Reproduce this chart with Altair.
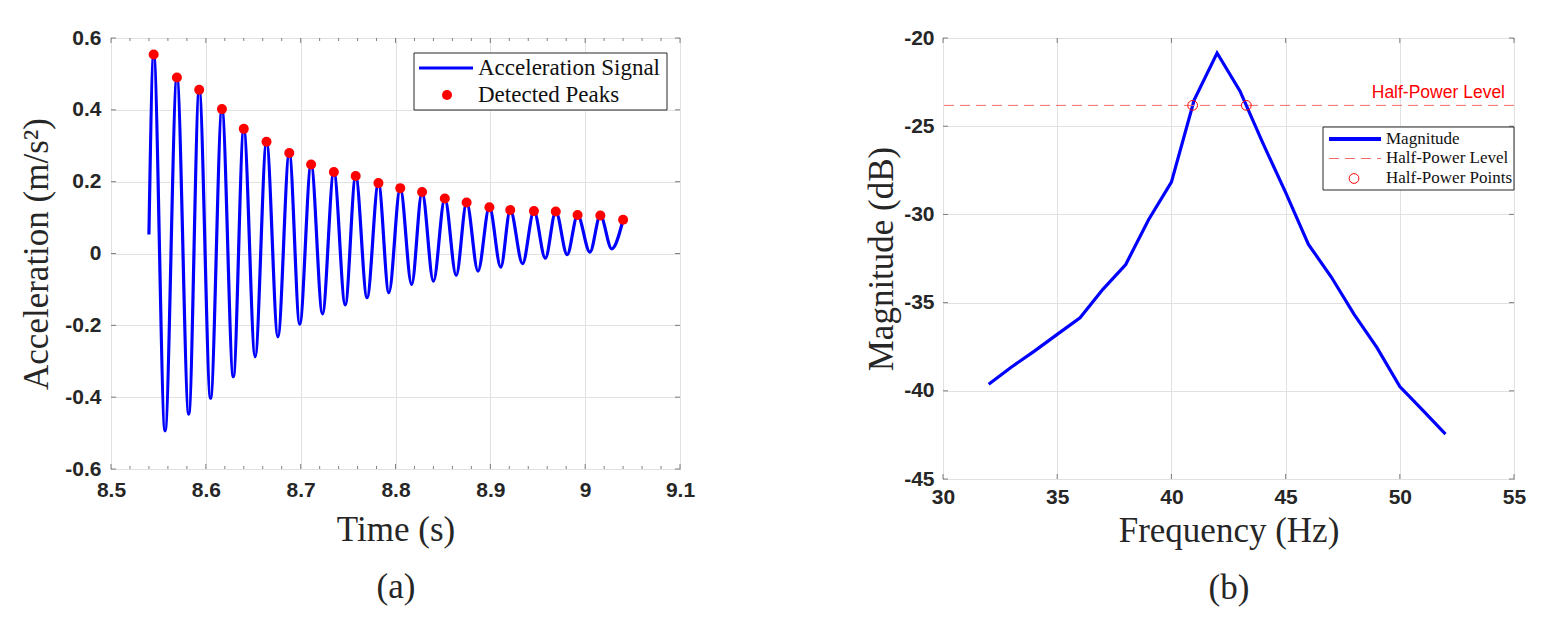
import altair as alt
import pandas as pd

# ---------------- panel (a): decaying acceleration signal ----------------
start_t = [8.540]
start_v = [0.053]
peak_t = [8.545, 8.5695, 8.593, 8.617, 8.640, 8.664, 8.688, 8.711, 8.735, 8.758, 8.782,
          8.805, 8.828, 8.852, 8.875, 8.899, 8.921, 8.946, 8.969, 8.992, 9.016, 9.040]
peak_v = [0.554, 0.490, 0.456, 0.402, 0.347, 0.311, 0.280, 0.248, 0.227, 0.216, 0.196,
          0.182, 0.171, 0.153, 0.142, 0.129, 0.121, 0.118, 0.117, 0.107, 0.106, 0.094]
trough_t = [8.557, 8.582, 8.605, 8.629, 8.652, 8.676, 8.699, 8.723, 8.747, 8.770, 8.793,
            8.817, 8.840, 8.864, 8.887, 8.911, 8.934, 8.958, 8.981, 9.005, 9.028]
trough_v = [-0.494, -0.447, -0.403, -0.343, -0.287, -0.232, -0.197, -0.168, -0.143, -0.123, -0.109,
            -0.086, -0.077, -0.061, -0.049, -0.038, -0.028, -0.013, -0.003, 0.004, 0.013]
a_x_ticks = [8.5, 8.6, 8.7, 8.8, 8.9, 9.0, 9.1]
a_x_minor = [8.52, 8.54, 8.56, 8.58, 8.62, 8.64, 8.66, 8.68, 8.72, 8.74, 8.76, 8.78,
             8.82, 8.84, 8.86, 8.88, 8.92, 8.94, 8.96, 8.98, 9.02, 9.04, 9.06, 9.08]
a_y_ticks = [-0.6, -0.4, -0.2, 0, 0.2, 0.4, 0.6]

# ---------------- panel (b): frequency response ----------------
freq = [32, 33, 34, 35, 36, 37, 38, 39, 40, 41, 42, 43, 44, 45, 46, 47, 48, 49, 50, 51, 52]
mag = [-39.63, -38.65, -37.75, -36.8, -35.86, -34.25, -32.84, -30.3, -28.17, -23.5, -20.85,
       -23.0, -25.95, -28.75, -31.7, -33.55, -35.67, -37.55, -39.76, -41.1, -42.46]
half_power_level = [-23.82]
hp_freq = [40.93, 43.28]
b_x_ticks = [30, 35, 40, 45, 50, 55]
b_y_ticks = [-45, -40, -35, -30, -25, -20]

WA, HA = 569, 431
WB, HB = 571, 441
SERIF = "Liberation Serif"
SANS = "Liberation Sans"
BLUE = "#0000FF"
RED = "#FF0000"
HPRED = "#f36b6b"
GRID = "#e1e1e1"
TXT = "#262626"
MINUS = "replace(datum.label, '\u2212', '-')"

sig = pd.DataFrame({"t": start_t + peak_t + trough_t,
                    "v": start_v + peak_v + trough_v}).sort_values("t").reset_index(drop=True)
peaks = pd.DataFrame({"t": peak_t, "v": peak_v})
one = pd.DataFrame({"k": [0]})


def mk_axis(vals, fmt, pad, title, horizontal, w, h, tx=None, ty=None):
    common = dict(values=vals, format=fmt, labelExpr=MINUS, grid=True, gridColor=GRID, gridWidth=1,
                  domain=False, ticks=False, tickSize=0, labelFont=SANS, labelFontSize=21,
                  labelFontWeight="bold", labelColor=TXT, labelPadding=pad, labelFlush=False,
                  title=title, titleFont=SERIF, titleFontSize=35, titleFontWeight="normal",
                  titleColor=TXT, titleBaseline="middle", titleAlign="center")
    if horizontal:
        return alt.Axis(titleLineHeight=57, titleX=w / 2, titleY=ty, **common)
    return alt.Axis(titleX=tx, titleY=h / 2, titleAngle=270, **common)


xs_a = alt.Scale(domain=[8.5, 9.1], nice=False, zero=False)
ys_a = alt.Scale(domain=[-0.6, 0.6], nice=False, zero=False)
ax_a = mk_axis(a_x_ticks, ".1~f", 10, ["Time (s)", "(a)"], True, WA, HA, ty=60)
ay_a = mk_axis(a_y_ticks, ".1~f", 10, "Acceleration (m/s²)", False, WA, HA, tx=-75)
XA = lambda: alt.X("t:Q", scale=xs_a, axis=ax_a)
YA = lambda: alt.Y("v:Q", scale=ys_a, axis=ay_a)


def tick_layer(vals, field, orient, pos, size, enc_x, enc_y):
    df = pd.DataFrame({field: vals})
    if orient == "x":
        return alt.Chart(df).mark_tick(orient="vertical", size=size, thickness=1, color="#4d4d4d").encode(
            x=enc_x(), y=alt.value(pos))
    return alt.Chart(df).mark_tick(orient="horizontal", size=size, thickness=1, color="#4d4d4d").encode(
        y=enc_y(), x=alt.value(pos))


line_a = alt.Chart(sig).mark_line(color=BLUE, strokeWidth=3.2, interpolate="monotone").encode(x=XA(), y=YA())
pts_a = alt.Chart(peaks).mark_point(filled=True, color=RED, size=100, opacity=1).encode(x=XA(), y=YA())

leg_a_box = alt.Chart(one).mark_rect(fill="white", stroke="#262626", strokeWidth=1).encode(
    x=alt.value(303), x2=alt.value(556), y=alt.value(15), y2=alt.value(72))
leg_a_line = alt.Chart(one).mark_rule(color=BLUE, strokeWidth=3.2).encode(
    x=alt.value(308), x2=alt.value(362), y=alt.value(30), y2=alt.value(30))
leg_a_dot = alt.Chart(one).mark_point(filled=True, color=RED, size=100, opacity=1).encode(
    x=alt.value(336), y=alt.value(57))
leg_a_t1 = alt.Chart(one).mark_text(align="left", baseline="middle", font=SERIF, fontSize=23, color="#111").encode(
    x=alt.value(367), y=alt.value(30), text=alt.value("Acceleration Signal"))
leg_a_t2 = alt.Chart(one).mark_text(align="left", baseline="middle", font=SERIF, fontSize=23, color="#111").encode(
    x=alt.value(367), y=alt.value(57), text=alt.value("Detected Peaks"))

ticks_a = [
    tick_layer(a_x_ticks, "t", "x", HA - 2.5, 5, XA, YA),
    tick_layer(a_x_ticks, "t", "x", 2.5, 5, XA, YA),
    tick_layer(a_x_minor, "t", "x", HA - 1.5, 3, XA, YA),
    tick_layer(a_x_minor, "t", "x", 1.5, 3, XA, YA),
    tick_layer(a_y_ticks, "v", "y", 2.5, 5, XA, YA),
    tick_layer(a_y_ticks, "v", "y", WA - 2.5, 5, XA, YA),
]

panel_a = alt.layer(line_a, *ticks_a, pts_a, leg_a_box, leg_a_line, leg_a_dot, leg_a_t1, leg_a_t2).properties(
    width=WA, height=HA)

# ---------------- panel (b) ----------------
spec = pd.DataFrame({"f": freq, "m": mag})
hp_pts = pd.DataFrame({"f": hp_freq, "m": half_power_level * len(hp_freq)})
hp_lvl = pd.DataFrame({"m": half_power_level})

xs_b = alt.Scale(domain=[30, 55], nice=False, zero=False)
ys_b = alt.Scale(domain=[-45, -20], nice=False, zero=False)
ax_b = mk_axis(b_x_ticks, "d", 7, ["Frequency (Hz)", "(b)"], True, WB, HB, ty=51)
ay_b = mk_axis(b_y_ticks, "d", 9, "Magnitude (dB)", False, WB, HB, tx=-62)
XB = lambda: alt.X("f:Q", scale=xs_b, axis=ax_b)
YB = lambda: alt.Y("m:Q", scale=ys_b, axis=ay_b)

line_b = alt.Chart(spec).mark_line(color=BLUE, strokeWidth=3.2).encode(x=XB(), y=YB())
rule_b = alt.Chart(hp_lvl).mark_rule(color=HPRED, strokeWidth=1, strokeDash=[10, 6]).encode(y=YB())
lvl_txt = alt.Chart(hp_lvl).mark_text(align="right", baseline="middle", font=SANS, fontSize=17.5,
                                      color=RED, dy=-12).encode(
    y=YB(), x=alt.value(WB - 9), text=alt.value("Half-Power Level"))
hp_b = alt.Chart(hp_pts).mark_point(filled=False, color=RED, size=95, strokeWidth=1, opacity=1).encode(
    x=XB(), y=YB())

leg_b_box = alt.Chart(one).mark_rect(fill="white", stroke="#262626", strokeWidth=1).encode(
    x=alt.value(380), x2=alt.value(WB), y=alt.value(89), y2=alt.value(152))
leg_b_line = alt.Chart(one).mark_rule(color=BLUE, strokeWidth=4).encode(
    x=alt.value(386), x2=alt.value(438), y=alt.value(101), y2=alt.value(101))
leg_b_dash = alt.Chart(one).mark_rule(color=HPRED, strokeWidth=1, strokeDash=[10, 6]).encode(
    x=alt.value(386), x2=alt.value(438), y=alt.value(120.5), y2=alt.value(120.5))
leg_b_circ = alt.Chart(one).mark_point(filled=False, color=RED, size=95, strokeWidth=1, opacity=1).encode(
    x=alt.value(411), y=alt.value(140.5))
leg_b_txt = []
for label, yy in [("Magnitude", 100.5), ("Half-Power Level", 120), ("Half-Power Points", 139.5)]:
    leg_b_txt.append(alt.Chart(one).mark_text(align="left", baseline="middle", font=SERIF, fontSize=17,
                                              color="#111").encode(
        x=alt.value(443), y=alt.value(yy), text=alt.value(label)))

ticks_b = [
    tick_layer(b_x_ticks, "f", "x", HB - 2.5, 5, XB, YB),
    tick_layer(b_x_ticks, "f", "x", 2.5, 5, XB, YB),
    tick_layer(b_y_ticks, "m", "y", 2.5, 5, XB, YB),
    tick_layer(b_y_ticks, "m", "y", WB - 2.5, 5, XB, YB),
]

panel_b = alt.layer(line_b, *ticks_b, rule_b, lvl_txt, hp_b, leg_b_box, leg_b_line, leg_b_dash,
                    leg_b_circ, *leg_b_txt).properties(width=WB, height=HB)

chart = alt.hconcat(panel_a, panel_b, spacing=263, bounds="flush").properties(
    padding={"left": 10, "top": 18, "right": 5, "bottom": 5},
    background="white",
).configure_view(stroke="#4d4d4d", strokeWidth=1)

chart.save("out.html", embed_options={"renderer": "svg", "actions": False})
